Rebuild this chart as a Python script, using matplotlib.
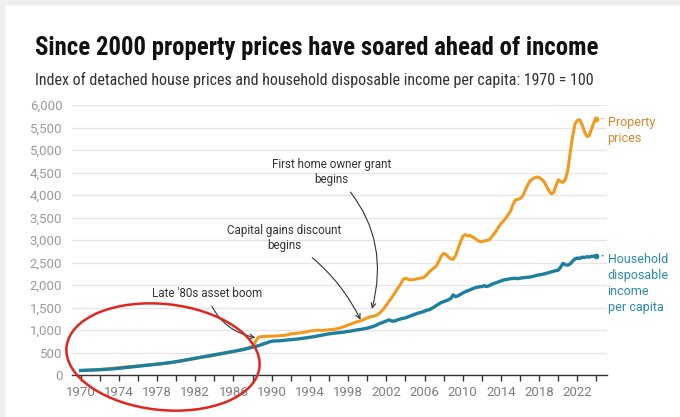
import matplotlib
matplotlib.use("Agg")
import matplotlib.pyplot as plt
import matplotlib.transforms as mtransforms
from matplotlib.patches import Ellipse, Rectangle
from matplotlib.ticker import FuncFormatter

plt.rcParams['font.family'] = ['Roboto', 'DejaVu Sans']

# ---------------- data ----------------
early_years = [1970.0, 1970.5, 1971.0, 1971.5, 1972.0, 1972.5, 1973.0, 1973.5, 1974.0, 1974.5,
               1975.0, 1975.5, 1976.0, 1976.5, 1977.0, 1977.5, 1978.0, 1978.5, 1979.0, 1979.5,
               1980.0, 1980.5, 1981.0, 1981.5, 1982.0, 1982.5, 1983.0, 1983.5, 1984.0, 1984.5,
               1985.0, 1985.5, 1986.0, 1986.5, 1987.0, 1987.5]
late_years = [1988 + q * 0.25 for q in range(145)]  # quarterly 1988.0 .. 2024.0
years = early_years + late_years

property_prices = [
    100, 105, 110, 116, 122, 130, 140, 152, 165, 175,
    183, 192, 202, 212, 222, 232, 242, 252, 263, 276,
    292, 310, 330, 352, 372, 388, 402, 418, 438, 458,
    478, 500, 522, 545, 568, 600,
    # 1988..
    640, 720, 810, 850, 855, 860, 858, 862,
    865, 862, 868, 872, 875, 880, 885, 900,
    915, 920, 925, 930, 935, 945, 955, 965,
    975, 985, 990, 995, 995, 990, 995, 1000,
    1005, 1010, 1015, 1025, 1035, 1050, 1070, 1090,
    1110, 1130, 1150, 1170, 1185, 1200, 1220, 1245,
    1270, 1285, 1300, 1310, 1330, 1370, 1420, 1480,
    1550, 1630, 1700, 1780, 1860, 1940, 2020, 2120,
    2150, 2130, 2110, 2120, 2125, 2140, 2150, 2160,
    2180, 2230, 2290, 2340, 2380, 2430, 2530, 2640,
    2700, 2680, 2620, 2580, 2570, 2650, 2800, 2950,
    3080, 3120, 3090, 3100, 3070, 3040, 3000, 2970,
    2960, 2980, 2990, 3000, 3060, 3130, 3200, 3290,
    3360, 3420, 3480, 3560, 3640, 3780, 3890, 3900,
    3920, 3970, 4080, 4200, 4300, 4350, 4380, 4400,
    4390, 4350, 4300, 4200, 4100, 4030, 4050, 4200,
    4340, 4300, 4280, 4350, 4550, 4950, 5300, 5580,
    5660, 5670, 5560, 5400, 5300, 5320, 5480, 5620,
    5700,
]

household_income = [
    100, 104, 108, 113, 118, 124, 130, 138, 148, 160,
    172, 183, 195, 206, 217, 228, 240, 252, 265, 280,
    296, 314, 333, 352, 372, 390, 410, 428, 447, 466,
    485, 505, 525, 545, 565, 590,
    # 1988..
    615, 630, 645, 660, 680, 700, 715, 735,
    750, 755, 760, 758, 765, 770, 775, 780,
    785, 790, 795, 800, 808, 815, 822, 830,
    838, 845, 855, 865, 875, 885, 895, 905,
    915, 922, 930, 935, 940, 945, 950, 960,
    970, 975, 985, 995, 1005, 1010, 1020, 1030,
    1040, 1055, 1070, 1090, 1110, 1140, 1160, 1180,
    1200, 1225, 1205, 1195, 1210, 1230, 1245, 1260,
    1270, 1290, 1310, 1330, 1350, 1370, 1385, 1400,
    1420, 1440, 1450, 1480, 1510, 1545, 1580, 1610,
    1630, 1650, 1670, 1700, 1780, 1740, 1760, 1790,
    1820, 1850, 1870, 1890, 1915, 1935, 1950, 1960,
    1965, 1985, 1965, 1985, 2010, 2035, 2050, 2070,
    2090, 2110, 2120, 2130, 2140, 2145, 2150, 2140,
    2150, 2160, 2165, 2170, 2175, 2185, 2200, 2215,
    2225, 2235, 2245, 2260, 2275, 2290, 2305, 2320,
    2330, 2400, 2480, 2450, 2440, 2470, 2530, 2580,
    2600, 2590, 2620, 2610, 2630, 2620, 2640, 2635,
    2650,
]

y_ticks = [0, 500, 1000, 1500, 2000, 2500, 3000, 3500, 4000, 4500, 5000, 5500, 6000]
x_label_years = list(range(1970, 2023, 4))
x_tick_years = list(range(1970, 2025, 2))

title = "Since 2000 property prices have soared ahead of income"
subtitle = "Index of detached house prices and household disposable income per capita: 1970 = 100"

ORANGE = "#f39a1e"
ORANGE_TXT = "#d9842a"
BLUE = "#1c7f9e"
BLUE_TXT = "#2a89aa"
COND = ['Roboto Condensed', 'Liberation Sans Narrow', 'Roboto']

# ---------------- figure ----------------
W, H = 680, 417
fig = plt.figure(figsize=(W / 100, H / 100), dpi=100)
fig.patch.set_facecolor("white")
# light screenshot frame
fig.patches.append(Rectangle((0, 0), 4 / W, 1, transform=fig.transFigure, color="#efefef", zorder=0))
fig.patches.append(Rectangle((0, 1 - 4 / H), 1, 4 / H, transform=fig.transFigure, color="#efefef", zorder=0))

ax_left, ax_right, ax_top, ax_bottom = 72, 607, 105, 375
ax = fig.add_axes([ax_left / W, 1 - ax_bottom / H, (ax_right - ax_left) / W, (ax_bottom - ax_top) / H])

ax.plot(years, property_prices, color=ORANGE, lw=2.2, solid_joinstyle="round", zorder=3)
ax.plot(years, household_income, color=BLUE, lw=2.4, solid_joinstyle="round", zorder=4)
ax.plot(years[-1], property_prices[-1], "o", ms=3, color=ORANGE, zorder=5)
ax.plot(years[-1], household_income[-1], "o", ms=3, color=BLUE, zorder=5)

ax.set_xlim(1969.1, 2025.1)
ax.set_ylim(0, 6000)
ax.set_yticks(y_ticks)
ax.yaxis.set_major_formatter(FuncFormatter(lambda v, p: f"{int(v):,}"))
ax.set_xticks(x_tick_years)
ax.set_xticklabels([str(y) if y in x_label_years else "" for y in x_tick_years])

ax.grid(axis="y", color="#e6e6e6", lw=1)
ax.set_axisbelow(True)
for s in ["left", "right", "top"]:
    ax.spines[s].set_visible(False)
ax.spines["bottom"].set_color("#333333")
ax.spines["bottom"].set_linewidth(1)
ax.tick_params(axis="y", length=0, pad=7, labelsize=9.5, labelcolor="#9a9a9a")
ax.tick_params(axis="x", length=4, width=1, color="#333333", pad=4, labelsize=9.5, labelcolor="#7f7f7f")

# end labels
ax.annotate("Property\nprices", xy=(years[-1], property_prices[-1]), xytext=(8, 2),
            textcoords="offset points", va="top", ha="left", fontsize=9, color=ORANGE_TXT,
            linespacing=1.3, annotation_clip=False)
ax.annotate("Household\ndisposable\nincome\nper capita", xy=(years[-1], household_income[-1]), xytext=(8, 2),
            textcoords="offset points", va="top", ha="left", fontsize=9, color=BLUE_TXT,
            linespacing=1.3, annotation_clip=False)
ax.annotate("", xy=(years[-1], property_prices[-1]), xytext=(2024.7, property_prices[-1]),
            arrowprops=dict(arrowstyle="-", color=ORANGE, lw=0.8, shrinkA=0, shrinkB=4), annotation_clip=False)
ax.annotate("", xy=(years[-1], household_income[-1]), xytext=(2024.7, household_income[-1]),
            arrowprops=dict(arrowstyle="-", color=BLUE, lw=0.8, shrinkA=0, shrinkB=4), annotation_clip=False)

# annotations
arrow_kw = dict(arrowstyle="->,head_length=0.4,head_width=0.2", color="#333333", lw=0.8, shrinkA=3, shrinkB=0)
ax.annotate("Late '80s asset boom", xy=(1988.3, 830), xytext=(1983.2, 1820),
            ha="center", va="center", fontsize=8.4, color="#333333",
            arrowprops=dict(connectionstyle="arc3,rad=0.3", **arrow_kw))
ax.annotate("Capital gains discount\nbegins", xy=(1999.3, 1230), xytext=(1991.35, 3040),
            ha="center", va="center", fontsize=8.4, color="#333333", linespacing=1.2,
            arrowprops=dict(connectionstyle="arc3,rad=-0.15", **arrow_kw))
ax.annotate("First home owner grant\nbegins", xy=(2000.5, 1470), xytext=(1996.3, 4510),
            ha="center", va="center", fontsize=8.4, color="#333333", linespacing=1.2,
            arrowprops=dict(connectionstyle="arc3,rad=-0.3", **arrow_kw))

# titles
fig.text(35 / W, 1 - 48 / H, title, fontsize=17.8, fontweight="bold", color="#111111",
         ha="left", va="center", family=COND)
fig.text(35 / W, 1 - 80 / H, subtitle, fontsize=11.5, color="#333333",
         ha="left", va="center", family=COND)

# hand-drawn red loop (overlay in pixel space)
loop = Ellipse((163, 357), 194, 106, angle=6, fill=False, edgecolor="#e0261f", lw=1.8,
               transform=mtransforms.Affine2D().scale(1, -1).translate(0, H),
               zorder=10, clip_on=False)
fig.patches.append(loop)

fig.savefig("out.png", dpi=100)
